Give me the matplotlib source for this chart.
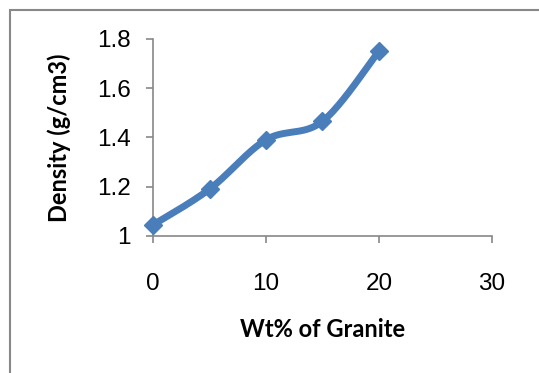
import numpy as np
import matplotlib.pyplot as plt
from matplotlib.patches import Rectangle

plt.rcParams['font.family'] = ['Liberation Sans', 'DejaVu Sans']

# density measurements vs granite loading
wt_granite = [0, 5, 10, 15, 20]
density = [1.045, 1.19, 1.39, 1.465, 1.75]

x_ticks = [0, 10, 20, 30]
y_ticks = [1, 1.2, 1.4, 1.6, 1.8]
y_tick_labels = ['1', '1.2', '1.4', '1.6', '1.8']


def smooth_curve(x, y, n=40, tension=0.5):
    # cardinal spline through the points, like a spreadsheet "smoothed line"
    x = np.asarray(x, float)
    y = np.asarray(y, float)
    px = np.concatenate([[x[0]], x, [x[-1]]])
    py = np.concatenate([[y[0]], y, [y[-1]]])
    xs, ys = [], []
    t = np.linspace(0, 1, n)
    for i in range(1, len(px) - 2):
        p0, p1, p2, p3 = (np.array([px[j], py[j]]) for j in (i - 1, i, i + 1, i + 2))
        m1 = tension * (p2 - p0)
        m2 = tension * (p3 - p1)
        h00 = 2 * t**3 - 3 * t**2 + 1
        h10 = t**3 - 2 * t**2 + t
        h01 = -2 * t**3 + 3 * t**2
        h11 = t**3 - t**2
        seg = (np.outer(h00, p1) + np.outer(h10, m1) + np.outer(h01, p2) + np.outer(h11, m2))
        xs.append(seg[:, 0])
        ys.append(seg[:, 1])
    return np.concatenate(xs), np.concatenate(ys)


fig = plt.figure(figsize=(5.39, 3.73), dpi=100)
ax = fig.add_axes([153 / 539, 1 - 236 / 373, (492 - 153) / 539, (236 - 38.7) / 373])

blue = '#4a7ebb'
sx, sy = smooth_curve(wt_granite, density)
ax.plot(sx, sy, color=blue, linewidth=5, solid_capstyle='round', zorder=3)
ax.plot(wt_granite, density, linestyle='none', marker='D', markersize=9,
        color=blue, zorder=4, clip_on=False)

ax.set_xlim(0, 30)
ax.set_ylim(1, 1.8)
ax.set_xticks(x_ticks)
ax.set_yticks(y_ticks)
ax.set_yticklabels(y_tick_labels)

for side in ['top', 'right']:
    ax.spines[side].set_visible(False)
for side in ['left', 'bottom']:
    ax.spines[side].set_color('#888888')
    ax.spines[side].set_linewidth(1.2)
ax.tick_params(axis='both', direction='out', color='#888888', width=1.2,
               length=5, labelsize=17.5)
ax.tick_params(axis='x', pad=22)
ax.tick_params(axis='y', pad=11)

label_font = dict(family=['Lato', 'DejaVu Sans'], fontsize=17, fontweight='bold')
ax.set_xlabel('Wt% of Granite', labelpad=16, **label_font)
ax.set_ylabel('Density (g/cm3)', labelpad=19, **label_font)

# chart area border
fig.patches.append(Rectangle((9.5 / 539, -0.1), 1.2, 1 - 9.5 / 373 + 0.1,
                             transform=fig.transFigure, fill=False,
                             edgecolor='#888888', linewidth=1.5))

fig.savefig('out.png', dpi=100)
